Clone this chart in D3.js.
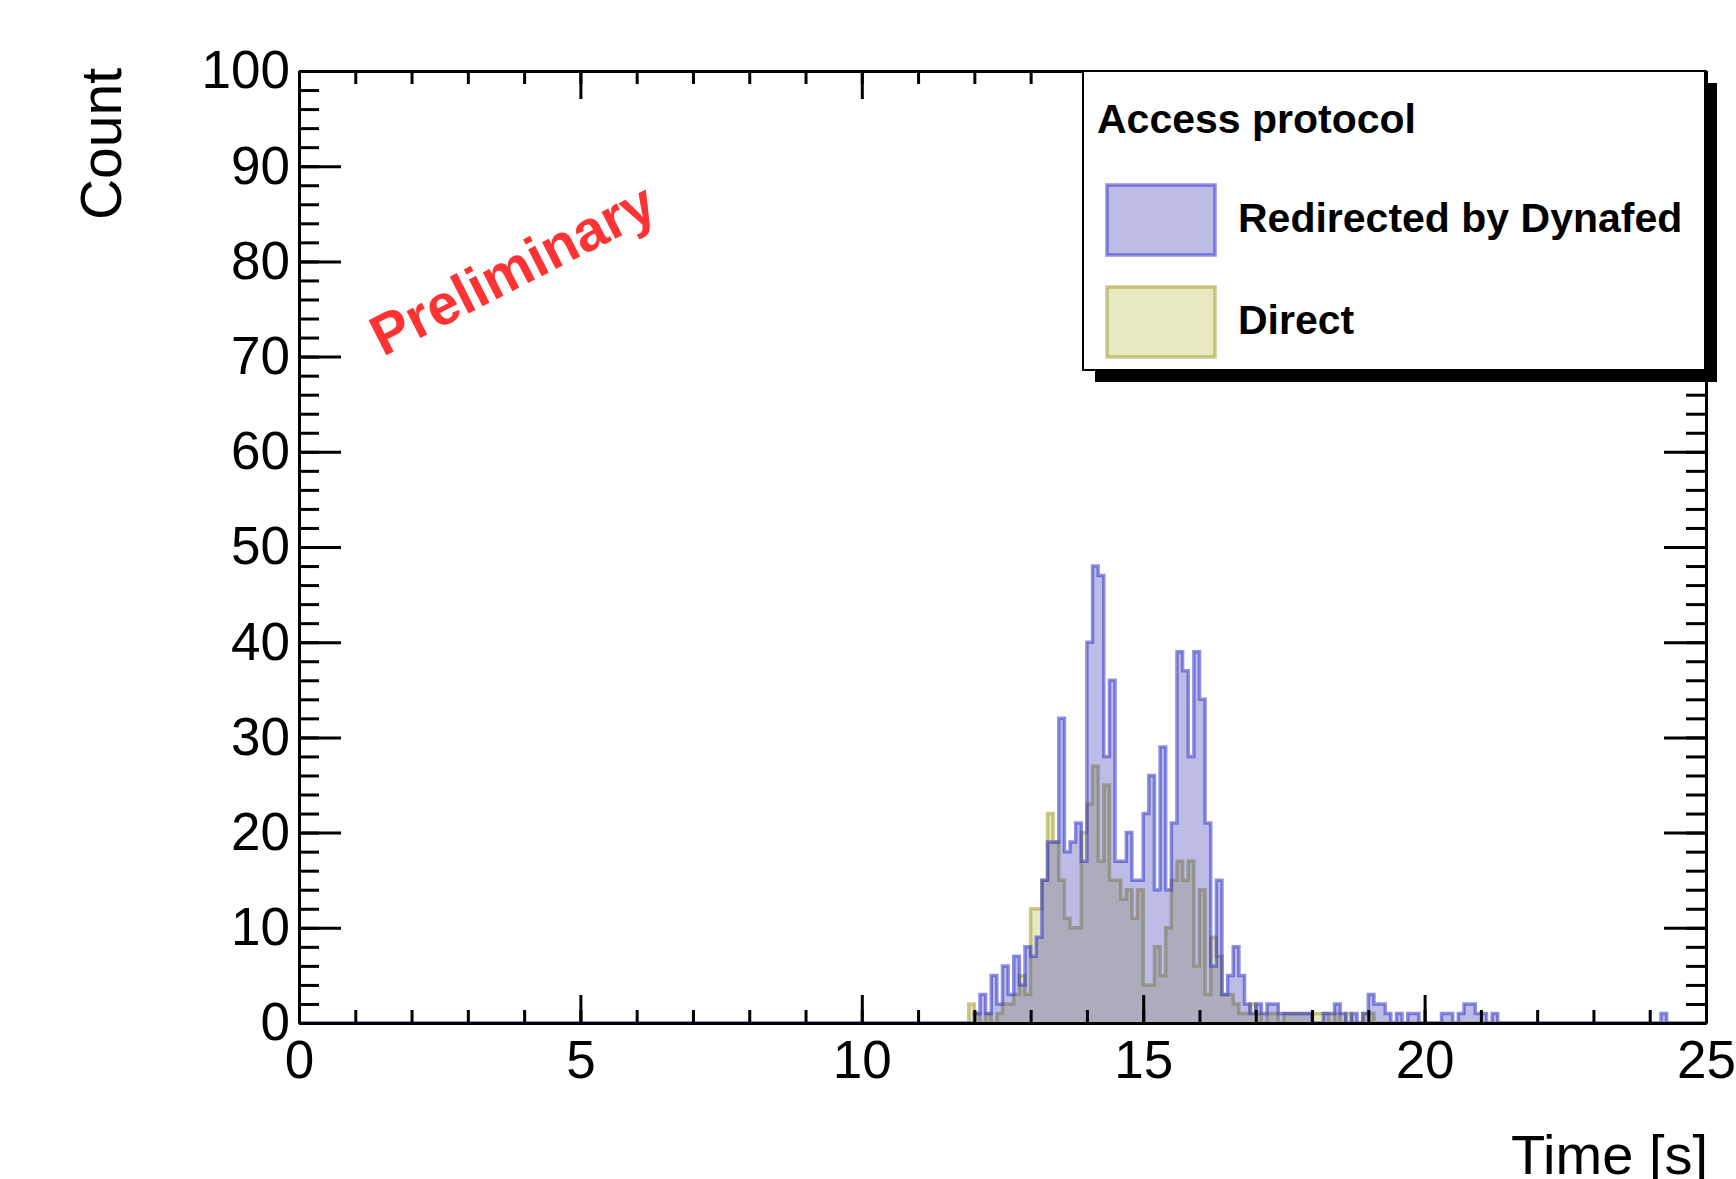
<!DOCTYPE html>
<html>
<head>
<meta charset="utf-8">
<script src="https://cdn.jsdelivr.net/npm/d3@7"></script>
<style>
  html, body { margin: 0; padding: 0; background: #fff; }
  svg text { font-family: "Liberation Sans", Arial, Helvetica, sans-serif; }
</style>
</head>
<body>
<div id="chart"></div>
<script>
// ---- data ----
const legendTitle = "Access protocol";
const seriesNames = ["Redirected by Dynafed", "Direct"];
const xMajorTicks = [0, 5, 10, 15, 20, 25];
const yMajorTicks = [0, 10, 20, 30, 40, 50, 60, 70, 80, 90, 100];
const xTitle = "Time [s]";
const yTitle = "Count";
const stamp = "Preliminary";

// histogram bins of 0.1 s, first bin starts at 11.9 s
const binWidth = 0.1;
const firstBin = 11.9;
const redirectedCounts = [
  0,
  1, 3, 1, 5, 2, 6, 3, 7, 4, 8,
  7, 9, 15, 19, 19, 32, 18, 19, 21, 17,
  40, 48, 47, 28, 36, 17, 17, 20, 15, 15,
  22, 26, 14, 29, 14, 21, 39, 37, 28, 39,
  34, 21, 6, 15, 3, 5, 8, 5, 2, 1,
  2, 1, 2, 2, 1, 1, 1, 1, 1, 1,
  0, 0, 1, 1, 2, 1, 0, 1, 0, 1,
  3, 2, 2, 1, 0, 1, 0, 1, 1, 0,
  0, 0, 0, 1, 1, 0, 1, 2, 2, 1,
  1, 0, 1, 0, 0, 0, 0, 0, 0, 0,
  0, 0, 0, 0, 0, 0, 0, 0, 0, 0,
  0, 0, 0, 0, 0, 0, 0, 0, 0, 0,
  0, 0, 1
];
const directCounts = [
  2,
  1, 0, 1, 0, 1, 2, 2, 3, 5, 3,
  12, 12, 15, 22, 19, 15, 11, 10, 10, 20,
  23, 27, 17, 25, 15, 15, 13, 14, 11, 14,
  4, 4, 8, 5, 10, 15, 17, 15, 17, 6,
  14, 3, 9, 7, 3, 3, 2, 1, 1, 2,
  1, 0, 1, 1, 0, 1, 1, 1, 1, 1,
  1, 1, 1, 0, 1, 0, 1, 0, 0, 1,
  1
];

// ---- layout ----
const W = 1736, H = 1179;
const frame = { left: 299, top: 71, right: 1706, bottom: 1023 };
const styles = [
  { fill: "rgba(51,51,179,0.33)", line: "rgba(51,51,204,0.55)" },  // redirected
  { fill: "rgba(179,179,51,0.30)", line: "rgba(150,150,30,0.5)" }   // direct
];

const svg = d3.select("#chart").append("svg")
  .attr("width", W)
  .attr("height", H);

const xScale = d3.scaleLinear().domain([0, 25]).range([frame.left, frame.right]);
const yScale = d3.scaleLinear().domain([0, 100]).range([frame.bottom, frame.top]);

// turn counts into step points, outline runs along zero over the whole axis
function stepPoints(counts) {
  let pts = [[0, 0], [firstBin, 0]];
  counts.forEach((c, i) => {
    const x0 = Math.round((firstBin + i * binWidth) * 10) / 10;
    const x1 = Math.round((firstBin + (i + 1) * binWidth) * 10) / 10;
    pts.push([x0, c]);
    pts.push([x1, c]);
  });
  const last = pts[pts.length - 1][0];
  pts.push([last, 0]);
  pts.push([25, 0]);
  return pts;
}

const line = d3.line().x(d => xScale(d[0])).y(d => yScale(d[1]));
const area = d3.area().x(d => xScale(d[0])).y0(yScale(0)).y1(d => yScale(d[1]));

const histos = svg.append("g").attr("class", "histos");
// direct first, redirected drawn over it
[[directCounts, styles[1]], [redirectedCounts, styles[0]]].forEach(([counts, st]) => {
  const pts = stepPoints(counts);
  histos.append("path").attr("d", area(pts)).attr("fill", st.fill);
  histos.append("path").attr("d", line(pts))
    .attr("fill", "none").attr("stroke", st.line).attr("stroke-width", 3.5)
    .attr("stroke-linejoin", "miter");
});

// ---- axes, ROOT style ticks on all four sides ----
const xMinor = d3.range(0, 26, 1);
const yMinor = d3.range(0, 101, 2);

function styleAxis(g) {
  g.selectAll("path.domain").attr("stroke", "#000").attr("stroke-width", 3);
  g.selectAll(".tick line").attr("stroke", "#000").attr("stroke-width", 3);
  g.selectAll("text").attr("font-size", 53).attr("fill", "#000")
    .style("font-family", "'Liberation Sans', Arial, Helvetica, sans-serif");
}

svg.append("g").attr("transform", "translate(0," + frame.bottom + ")")
  .call(d3.axisBottom(xScale).tickValues(xMinor).tickSize(-13).tickSizeOuter(0).tickFormat(""))
  .call(styleAxis);
svg.append("g").attr("transform", "translate(0," + frame.bottom + ")")
  .call(d3.axisBottom(xScale).tickValues(xMajorTicks).tickSize(-28).tickSizeOuter(0).tickPadding(17).tickFormat(d3.format("d")))
  .call(styleAxis);

svg.append("g").attr("transform", "translate(0," + frame.top + ")")
  .call(d3.axisTop(xScale).tickValues(xMinor).tickSize(-13).tickSizeOuter(0).tickFormat(""))
  .call(styleAxis);
svg.append("g").attr("transform", "translate(0," + frame.top + ")")
  .call(d3.axisTop(xScale).tickValues(xMajorTicks).tickSize(-28).tickSizeOuter(0).tickFormat(""))
  .call(styleAxis);

svg.append("g").attr("transform", "translate(" + frame.left + ",0)")
  .call(d3.axisLeft(yScale).tickValues(yMinor).tickSize(-20).tickSizeOuter(0).tickFormat(""))
  .call(styleAxis);
svg.append("g").attr("transform", "translate(" + frame.left + ",0)")
  .call(d3.axisLeft(yScale).tickValues(yMajorTicks).tickSize(-42).tickSizeOuter(0).tickPadding(9).tickFormat(d3.format("d")))
  .call(styleAxis);

svg.append("g").attr("transform", "translate(" + frame.right + ",0)")
  .call(d3.axisRight(yScale).tickValues(yMinor).tickSize(-20).tickSizeOuter(0).tickFormat(""))
  .call(styleAxis);
svg.append("g").attr("transform", "translate(" + frame.right + ",0)")
  .call(d3.axisRight(yScale).tickValues(yMajorTicks).tickSize(-42).tickSizeOuter(0).tickFormat(""))
  .call(styleAxis);

// axis titles
svg.append("text")
  .attr("x", frame.right + 2).attr("y", 1174)
  .attr("text-anchor", "end").attr("font-size", 56)
  .text(xTitle);
svg.append("text")
  .attr("transform", "translate(121," + 68 + ") rotate(-90)")
  .attr("text-anchor", "end").attr("font-size", 57)
  .text(yTitle);

// ---- legend ----
const leg = { x: 1083, y: 71, w: 622, h: 299 };
svg.append("rect")
  .attr("x", leg.x + 12).attr("y", leg.y + 12)
  .attr("width", leg.w).attr("height", leg.h)
  .attr("fill", "#000");
svg.append("rect")
  .attr("x", leg.x).attr("y", leg.y)
  .attr("width", leg.w).attr("height", leg.h)
  .attr("fill", "#fff").attr("stroke", "#000").attr("stroke-width", 2);
svg.append("text")
  .attr("x", 1097).attr("y", 133)
  .attr("font-size", 41).attr("font-weight", "bold")
  .text(legendTitle);

const legendRows = [
  { name: seriesNames[0], st: styles[0], top: 185 },
  { name: seriesNames[1], st: styles[1], top: 287 }
];
legendRows.forEach(r => {
  svg.append("rect")
    .attr("x", 1107).attr("y", r.top)
    .attr("width", 108).attr("height", 70)
    .attr("fill", r.st.fill).attr("stroke", r.st.line).attr("stroke-width", 3.5);
  svg.append("text")
    .attr("x", 1238).attr("y", r.top + 47)
    .attr("font-size", 41).attr("font-weight", "bold")
    .text(r.name);
});

// ---- preliminary stamp ----
svg.append("text")
  .attr("transform", "translate(383,357) rotate(-27)")
  .attr("font-size", 57).attr("font-weight", "bold")
  .attr("fill", "#ff3333")
  .text(stamp);
</script>
</body>
</html>
